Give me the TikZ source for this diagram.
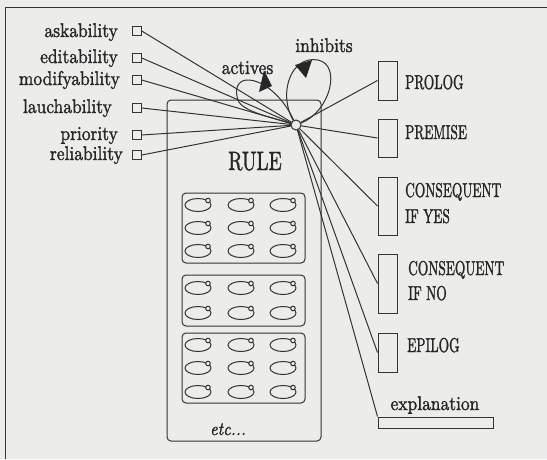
\documentclass[tikz,border=0pt]{standalone}
\usepackage{graphicx}
\usepackage{fontspec}
\setmainfont{lmroman10-regular.otf}[ItalicFont=lmroman10-italic.otf, FakeBold=1.6]
\definecolor{bg}{HTML}{ECECEA}
\definecolor{linec}{HTML}{333333}
\definecolor{ink}{HTML}{262626}
\newcommand{\cnd}[2][0.67]{\scalebox{#1}[1]{#2}}
\newcommand{\lc}[1]{\scalebox{0.97}[1.1]{#1}}
\tikzset{
  ln/.style={draw=linec, line width=1pt},
  attrsq/.style={draw=linec, line width=1pt, minimum size=8.5pt, inner sep=0pt, fill=bg},
  slot/.style={draw=linec, line width=1pt, inner sep=0pt, fill=bg},
  lbl/.style={text=ink, font=\fontsize{18}{20}\selectfont, inner sep=0pt},
  caps/.style={text=ink, font=\fontsize{20}{22}\selectfont, inner sep=0pt, anchor=base west},
}
\begin{document}
\begin{tikzpicture}[x=1pt, y=-1pt]
  \fill[bg] (0,0) rectangle (547,459);
  \useasboundingbox (0,0) rectangle (547,459);

  % page frame
  \draw[ln] (5,459) -- (5,7) -- (547,7);

  % RULE object and its slot groups
  \node[ln, rounded corners=4pt, minimum width=154pt, minimum height=341pt, inner sep=0pt] (rule) at (244,270.5) {};
  \node[lbl, anchor=base, font=\fontsize{26.5}{28}\selectfont] (ruletxt) at (255,170) {\cnd[0.73]{RULE}};
  \node[ln, rounded corners=4pt, minimum width=123pt, minimum height=70pt, inner sep=0pt] (g1) at (243.5,228) {};
  \node[ln, rounded corners=4pt, minimum width=123pt, minimum height=51pt, inner sep=0pt] (g2) at (243.5,300.5) {};
  \node[ln, rounded corners=4pt, minimum width=123pt, minimum height=70pt, inner sep=0pt] (g3) at (243.5,368) {};
  \foreach \yy in {205,228,251,288,313,345,368,392}
    \foreach \xx in {198,241,283} {
      \draw[ln] (\xx,\yy) ellipse [x radius=13pt, y radius=6.5pt];
      \draw[ln, fill=bg] (\xx+10,\yy-4.5) circle [radius=2.3pt];
    }
  \node[lbl, anchor=base, font=\fontsize{17}{19}\selectfont\itshape] (etc) at (228,435) {\lc{etc...}};

  % hub
  \node[circle, inner sep=0pt, minimum size=10pt] (hub) at (296,125) {};

  % attribute squares and labels
  \node[attrsq] (sa) at (137,31) {};
  \node[attrsq] (se) at (137,58) {};
  \node[attrsq] (sm) at (137,80) {};
  \node[attrsq] (sl) at (137,108) {};
  \node[attrsq] (sp) at (137,135) {};
  \node[attrsq] (sr) at (137,155) {};
  \node[lbl, anchor=base east] (la) at (118,37) {\lc{askability}};
  \node[lbl, anchor=base east] (le) at (118,63) {\lc{editability}};
  \node[lbl, anchor=base east] (lm) at (120,85) {\lc{modifyability}};
  \node[lbl, anchor=base east] (ll) at (112,113) {\lc{lauchability}};
  \node[lbl, anchor=base east] (lp) at (118,140) {\lc{priority}};
  \node[lbl, anchor=base east] (lr) at (123,160) {\lc{reliability}};
  \foreach \s in {sa,se,sm,sl,sp,sr}
    \draw[ln] (\s.east) -- (hub);

  % rule parts on the right
  \node[slot, minimum width=19pt, minimum height=39pt] (prolog) at (387.5,80.5) {};
  \node[slot, minimum width=19pt, minimum height=38pt] (premise) at (387.5,138) {};
  \node[slot, minimum width=19pt, minimum height=58pt] (conyes) at (387.5,206) {};
  \node[slot, minimum width=19pt, minimum height=59pt] (conno) at (387.5,283.5) {};
  \node[slot, minimum width=19pt, minimum height=39pt] (epilog) at (387.5,352.5) {};
  \node[slot, minimum width=115pt, minimum height=11pt] (expl) at (435.5,422.5) {};
  \node[caps] (tprolog) at (405,89) {\cnd{PROLOG}};
  \node[caps] (tpremise) at (405,139) {\cnd{PREMISE}};
  \node[caps] (tcy1) at (405,197) {\cnd{CONSEQUENT}};
  \node[caps] (tcy2) at (405,223) {\cnd{IF YES}};
  \node[caps] (tcn1) at (408,275) {\cnd{CONSEQUENT}};
  \node[caps] (tcn2) at (408,300) {\cnd{IF NO}};
  \node[caps] (tepi) at (407,352) {\cnd{EPILOG}};
  \node[lbl, anchor=base] (texpl) at (435,410) {\lc{explanation}};
  \draw[ln] (hub) -- (prolog.west);
  \draw[ln] (hub) -- (premise.west);
  \draw[ln] (hub) -- (conyes.west);
  \draw[ln] (hub) -- (conno.west);
  \draw[ln] (hub) -- (epilog.west);
  \draw[ln] (hub) -- (expl.north west);

  % self loops
  \draw[ln] (hub) .. controls (272,74) and (228,68) .. (238,100)
                  .. controls (242,112) and (275,118) .. (hub);
  \draw[ln] (hub) .. controls (278,95) and (290,55) .. (318,60)
                  .. controls (342,65) and (330,112) .. (hub);
  \fill[ink] (264,70) -- (259,92) -- (272,86) -- cycle;
  \fill[ink] (312,60) -- (295,65) -- (306,78) -- cycle;
  \node[lbl, anchor=base] (tact) at (247.5,74) {\lc{actives}};
  \node[lbl, anchor=base] (tinh) at (324,52) {\lc{inhibits}};

  % hub ring on top
  \draw[ln, fill=bg] (hub.center) circle [radius=5pt];
\end{tikzpicture}
\end{document}
